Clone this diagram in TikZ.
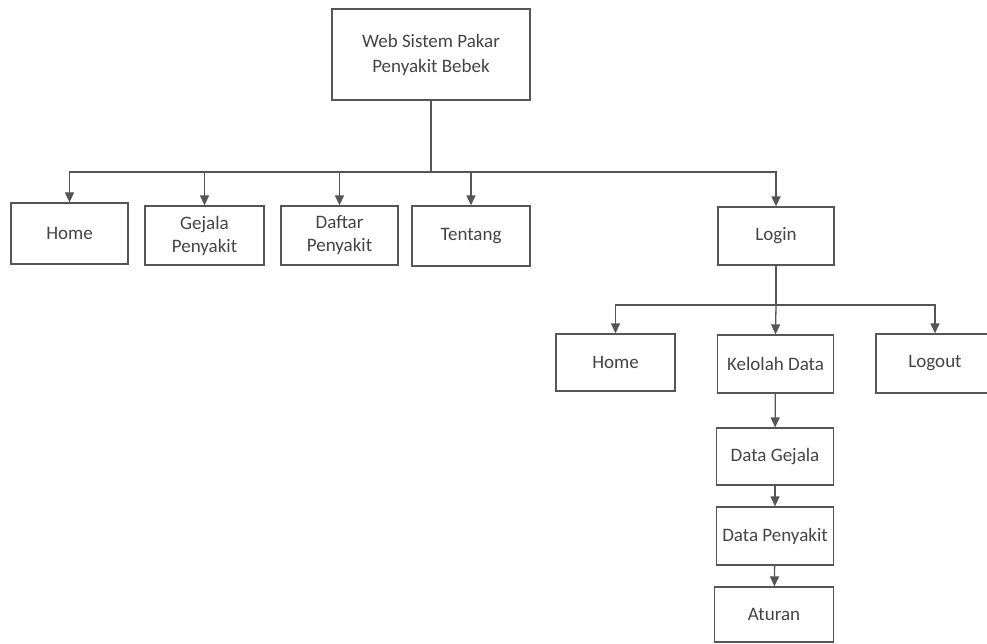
\documentclass[tikz,border=0pt]{standalone}
\usepackage{fontspec}
\setmainfont{Carlito}
\usetikzlibrary{arrows.meta}
\definecolor{ln}{HTML}{555555}
\definecolor{tx}{HTML}{444444}
\tikzset{
  box/.style={draw=ln, line width=1.3pt, rectangle, align=center, text=tx,
    font=\fontsize{19}{23}\selectfont, inner sep=0pt},
  arr/.style={draw=ln, line width=1.3pt, -{Triangle[length=10pt,width=9pt]}},
  ln/.style={draw=ln, line width=1.3pt}
}
\begin{document}
\begin{tikzpicture}[x=1pt,y=-1pt]
\useasboundingbox (0,0) rectangle (987,644);
\node[box, minimum width=198pt, minimum height=91pt, font=\fontsize{19}{25}\selectfont] (top) at (431,54.5) {Web Sistem Pakar\\Penyakit Bebek};
\node[box, minimum width=117pt, minimum height=61pt] (home) at (69.5,233.5) {Home};
\node[box, minimum width=119pt, minimum height=59pt] (gejala) at (204.5,235.5) {Gejala\\Penyakit};
\node[box, minimum width=117pt, minimum height=59pt] (daftar) at (339.5,235.5) {Daftar\\Penyakit};
\node[box, minimum width=118pt, minimum height=60pt] (tentang) at (471,236) {Tentang};
\node[box, minimum width=116pt, minimum height=58pt] (login) at (776,236) {Login};
\node[box, minimum width=119pt, minimum height=57pt] (home2) at (615.5,362.5) {Home};
\node[box, minimum width=116pt, minimum height=58pt] (kelolah) at (775.5,364) {Kelolah Data};
\node[box, minimum width=118pt, minimum height=59pt] (logout) at (935,363.5) {Logout};
\node[box, minimum width=117pt, minimum height=57pt] (dgejala) at (775,456.5) {Data Gejala};
\node[box, minimum width=117pt, minimum height=58pt] (dpenyakit) at (775,536) {Data Penyakit};
\node[box, minimum width=119pt, minimum height=55pt] (aturan) at (774,614.5) {Aturan};
\coordinate (b1) at (431,172);
\coordinate (b2) at (776,305);
\draw[ln] (top.south) -- (b1);
\foreach \n in {home,gejala,daftar,tentang,login}
  \draw[arr] (b1) -| (\n.north);
\draw[ln] (login.south) -- (b2);
\draw[arr] (b2) -| (home2.north);
\draw[arr] (b2) -- (kelolah.north);
\draw[arr] (b2) -| (logout.north);
\draw[arr] (kelolah) -- (dgejala);
\draw[arr] (dgejala) -- (dpenyakit);
\draw[arr] (dpenyakit) -- (aturan);
\end{tikzpicture}
\end{document}
